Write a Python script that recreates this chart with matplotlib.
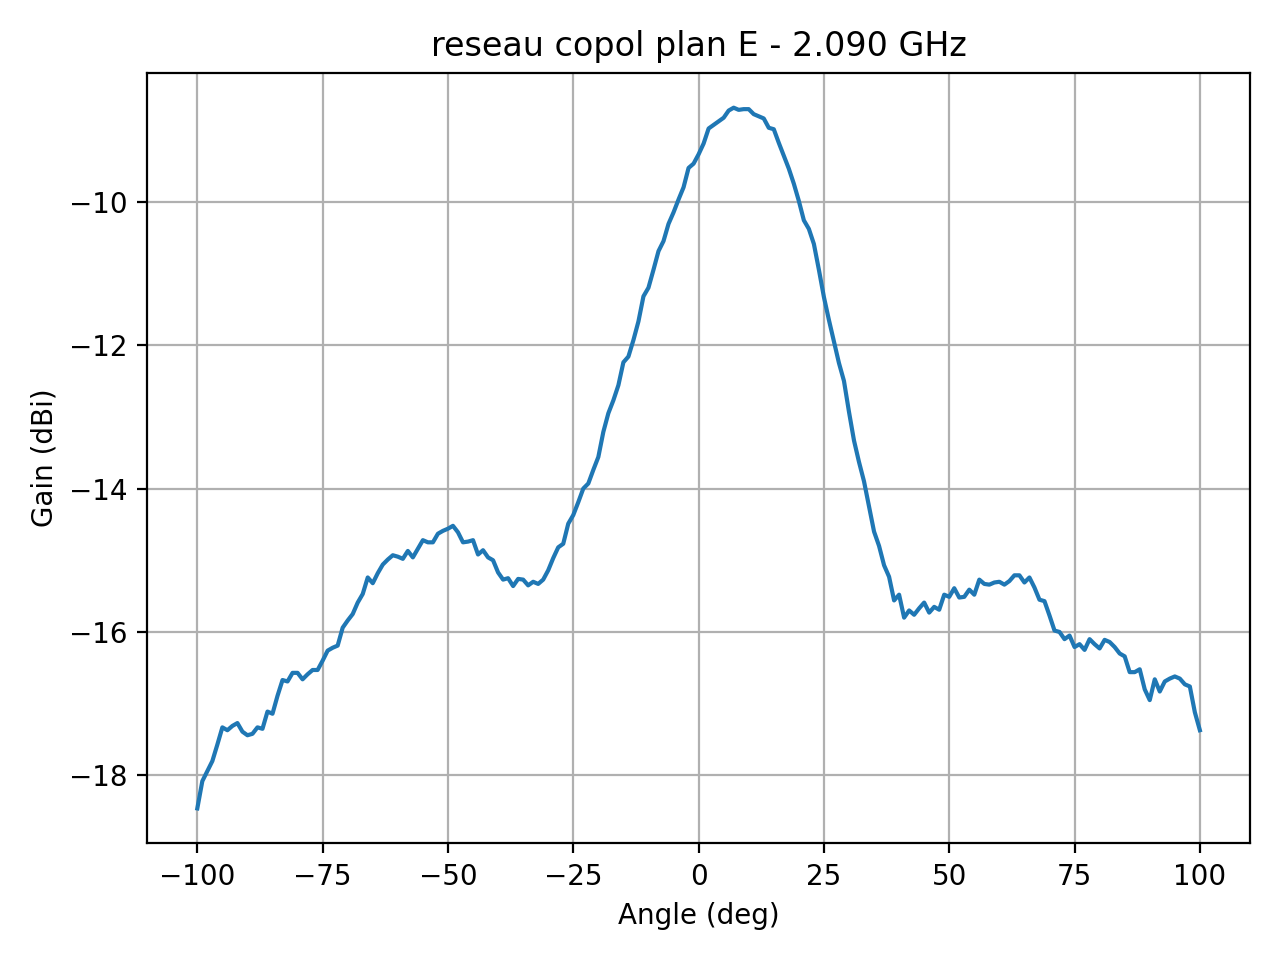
import numpy as np
import matplotlib.pyplot as plt

# Angles, 1 degree step
angle = np.arange(-100, 101, 1)

gain_m100_m51 = [
    -18.46, -18.08, -17.94, -17.80, -17.57, -17.33, -17.37, -17.31, -17.27, -17.39,
    -17.44, -17.42, -17.33, -17.35, -17.11, -17.14, -16.89, -16.67, -16.69, -16.57,
    -16.57, -16.66, -16.59, -16.53, -16.53, -16.40, -16.26, -16.22, -16.19, -15.94,
    -15.84, -15.75, -15.59, -15.47, -15.24, -15.32, -15.18, -15.06, -14.99, -14.93,
    -14.95, -14.98, -14.87, -14.96, -14.84, -14.72, -14.75, -14.75, -14.63, -14.59,
]
gain_m50_m1 = [
    -14.56, -14.52, -14.61, -14.75, -14.74, -14.72, -14.92, -14.86, -14.96, -15.00,
    -15.17, -15.27, -15.25, -15.36, -15.26, -15.27, -15.35, -15.30, -15.33, -15.27,
    -15.14, -14.97, -14.82, -14.77, -14.49, -14.37, -14.19, -14.00, -13.93, -13.74,
    -13.56, -13.21, -12.95, -12.77, -12.56, -12.24, -12.16, -11.93, -11.67, -11.32,
    -11.20, -10.95, -10.69, -10.55, -10.31, -10.15, -9.97, -9.80, -9.53, -9.47,
]
gain_0_49 = [
    -9.34, -9.19, -8.98, -8.93, -8.88, -8.83, -8.73, -8.69, -8.72, -8.71,
    -8.71, -8.78, -8.81, -8.84, -8.97, -8.99, -9.18, -9.36, -9.54, -9.75,
    -9.99, -10.26, -10.38, -10.59, -10.95, -11.33, -11.65, -11.95, -12.25, -12.50,
    -12.93, -13.33, -13.63, -13.90, -14.25, -14.60, -14.80, -15.07, -15.23, -15.56,
    -15.48, -15.80, -15.70, -15.76, -15.67, -15.59, -15.73, -15.65, -15.69, -15.48,
]
gain_50_100 = [
    -15.51, -15.39, -15.52, -15.51, -15.41, -15.48, -15.27, -15.33, -15.34, -15.31,
    -15.30, -15.34, -15.29, -15.21, -15.21, -15.31, -15.24, -15.38, -15.55, -15.57,
    -15.77, -15.98, -16.00, -16.10, -16.05, -16.21, -16.17, -16.25, -16.10, -16.17,
    -16.23, -16.11, -16.14, -16.21, -16.30, -16.34, -16.56, -16.56, -16.52, -16.80,
    -16.95, -16.66, -16.83, -16.69, -16.65, -16.62, -16.65, -16.73, -16.76, -17.12,
    -17.37,
]

gain = np.array(gain_m100_m51 + gain_m50_m1 + gain_0_49 + gain_50_100)

plt.figure(figsize=(6.4, 4.8), dpi=200)
plt.plot(angle, gain)
plt.grid(True)
plt.xlabel("Angle (deg)")
plt.ylabel("Gain (dBi)")
plt.title("reseau copol plan E - 2.090 GHz")
plt.tight_layout()
plt.savefig("out.png", dpi=200)
